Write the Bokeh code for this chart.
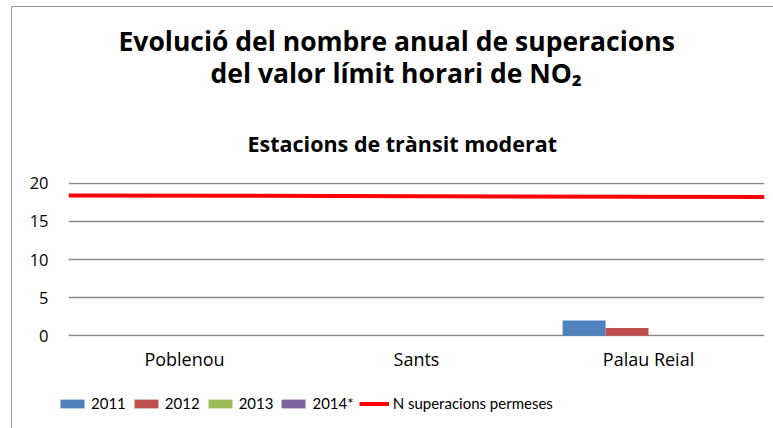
from bokeh.plotting import figure
from bokeh.layouts import column
from bokeh.models import (ColumnDataSource, Range1d, FixedTicker, Legend,
                          LegendItem, Title, InlineStyleSheet)
from bokeh.embed import file_html
from bokeh.resources import INLINE

stations = ["Poblenou", "Sants", "Palau Reial"]
years = ["2011", "2012", "2013", "2014*"]
colors = ["#4F81BD", "#C0504D", "#9BBB59", "#8064A2"]
values = {
    "2011": [0, 0, 2],
    "2012": [0, 0, 1],
    "2013": [0, 0, 0],
    "2014*": [0, 0, 0],
}
limit_x = [0, 3]
limit_y = [18.4, 18.2]
limit_label = "N superacions permeses"
y_ticks = [0, 5, 10, 15, 20]
title_line1 = "Evolució del nombre anual de superacions"
title_line2 = "del valor límit horari de NO₂"
subtitle_text = "Estacions de trànsit moderat"

W = 773
H_MAIN, H_LEG = 375, 53
FL, FT, FR, FB = 68, 182, 764, 336  # frame edges on main canvas


def border_css(top):
    return InlineStyleSheet(css=f"""
:host {{ overflow: hidden; }}
:host::after {{ content: ''; position: absolute; left: 11px; top: {top}px;
  right: -20px; bottom: -20px; border-left: 1.5px solid #9A9A9A;
  border-top: 1.5px solid #9A9A9A; pointer-events: none; }}
""")


p = figure(width=W, height=H_MAIN, output_backend="svg", toolbar_location=None,
           x_range=Range1d(0, 3), y_range=Range1d(-0.1, 20.1),
           min_border_left=FL, min_border_right=W - FR, min_border_top=FT,
           min_border_bottom=H_MAIN - FB, stylesheets=[border_css(6)])
p.outline_line_color = None
p.background_fill_color = "white"
p.border_fill_color = "white"

bar_w = 0.185
offsets = [-1.5 * bar_w, -0.5 * bar_w, 0.5 * bar_w, 1.5 * bar_w]
for yr, col, off in zip(years, colors, offsets):
    src = ColumnDataSource(dict(x=[i + 0.5 + off for i in range(len(stations))],
                                top=values[yr]))
    p.vbar(x="x", top="top", width=bar_w, source=src, fill_color=col,
           line_color=None)

p.line(limit_x, limit_y, line_color="#FF0000", line_width=4)

p.xaxis.ticker = FixedTicker(ticks=[i + 0.5 for i in range(len(stations))])
p.xaxis.major_label_overrides = {i + 0.5: s for i, s in enumerate(stations)}
p.yaxis.ticker = FixedTicker(ticks=y_ticks)
for ax in (p.xaxis, p.yaxis):
    ax.axis_line_color = None
    ax.major_tick_line_color = None
    ax.minor_tick_line_color = None
    ax.major_tick_out = 0
    ax.major_tick_in = 0
    ax.major_label_text_font = "Open Sans"
    ax.major_label_text_font_size = "16.5px"
    ax.major_label_text_color = "#000000"
p.xaxis.major_label_text_font_size = "18px"
p.yaxis.major_label_standoff = 20
p.xaxis.major_label_standoff = 10
p.xgrid.grid_line_color = None
p.ygrid.grid_line_color = "#8C8C8C"
p.ygrid.grid_line_width = 1.5

# titles: p.title is outermost, later-added titles sit nearer the frame
p.title.text = title_line1
p.title.text_font = "Open Sans"
p.title.text_font_size = "26.5px"
p.title.text_font_style = "bold"
p.title.text_color = "#000000"
p.title.align = "left"
p.title.offset = 118 - FL
p.title.standoff = -36
p.add_layout(Title(text=subtitle_text, text_font="Open Sans",
                   text_font_size="21.5px", text_font_style="bold",
                   text_color="#000000",
                   align="left", offset=247 - FL, standoff=49), "above")
p.add_layout(Title(text=title_line2, text_font="Open Sans",
                   text_font_size="26.5px", text_font_style="bold",
                   text_color="#000000",
                   align="left", offset=210 - FL, standoff=24), "above")

# legend strip below the chart
pl = figure(width=W, height=H_LEG, output_backend="svg", toolbar_location=None,
            x_range=Range1d(0, 1), y_range=Range1d(0, 1),
            x_axis_location=None, y_axis_location=None,
            min_border=0, stylesheets=[border_css(-20)])
pl.frame_align = False
pl.outline_line_color = None
pl.grid.visible = False
nan = float("nan")
items = []
for yr, col in zip(years, colors):
    r = pl.vbar(x=[nan], top=[nan], width=0.1, fill_color=col, line_color=None)
    items.append(LegendItem(label=yr, renderers=[r]))
lr = pl.line(x=[nan], y=[nan], line_color="#FF0000", line_width=4)
items.append(LegendItem(label=limit_label, renderers=[lr]))
legend = Legend(items=items, orientation="horizontal", location=(57, 16),
                glyph_width=30, glyph_height=11, label_standoff=4, spacing=5,
                padding=0, margin=0, border_line_color=None,
                background_fill_alpha=0, label_text_color="#000000",
                label_text_font="Lato", label_text_font_size="15px")
pl.add_layout(legend, "center")

layout = column(p, pl, spacing=0)
open("out.html", "w").write(file_html(layout, INLINE))
